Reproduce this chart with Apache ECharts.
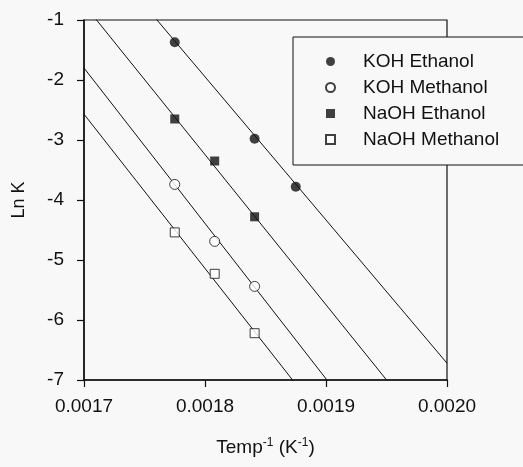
<!DOCTYPE html>
<html><head><meta charset="utf-8">
<script src="https://cdn.jsdelivr.net/npm/echarts@6/dist/echarts.min.js"></script>
<style>html,body{margin:0;padding:0;background:#f8f8f8}#c{width:523px;height:467px}</style>
</head><body><div id="c"></div>
<script>
// Data (x = 1/T in K^-1, y = ln K)
const xTicks = [0.0017, 0.0018, 0.0019, 0.0020];
const yTicks = [-7, -6, -5, -4, -3, -2, -1];
const seriesNames = ['KOH Ethanol', 'KOH Methanol', 'NaOH Ethanol', 'NaOH Methanol'];
const kohEthX = [0.001775, 0.001841, 0.001875];
const kohEthY = [-1.37, -2.98, -3.78];
const kohMethX = [0.001775, 0.001808, 0.001841];
const kohMethY = [-3.74, -4.69, -5.44];
const naohEthX = [0.001775, 0.001808, 0.001841];
const naohEthY = [-2.65, -3.35, -4.28];
const naohMethX = [0.001775, 0.001808, 0.001841];
const naohMethY = [-4.54, -5.23, -6.22];
// Fitted lines: ln K at x = 0.0017 and x = 0.0020
const fitX = [0.0017, 0.0020];
const fitKohEth = [0.44, -6.72];
const fitNaohEth = [-0.74, -8.25];
const fitKohMeth = [-1.80, -9.57];
const fitNaohMeth = [-2.57, -10.28];

const zip = (xs, ys) => xs.map((x, i) => [x, ys[i]]);
const ink = '#111';
const font = 'Arial, "Liberation Sans", sans-serif';

function fitLine(ys) {
  return { type: 'line', data: zip(fitX, ys), showSymbol: false, symbol: 'none', silent: true,
    lineStyle: { color: ink, width: 1 }, clip: true, z: 2, legendHoverLink: false };
}
function pts(name, xs, ys, symbol, filled) {
  return { type: 'scatter', name, data: zip(xs, ys), symbol, symbolSize: symbol === 'rect' ? 9 : 10,
    symbolKeepAspect: true,
    itemStyle: { color: filled ? ink : '#fff', borderColor: ink, borderWidth: filled ? 0 : 1 }, z: 3 };
}

const chart = echarts.init(document.getElementById('c'), null, { renderer: 'canvas' });
chart.setOption({
  backgroundColor: '#f8f8f8',
  animation: false,
  grid: { left: 84, right: 76, top: 20, bottom: 87, show: true, borderColor: ink, borderWidth: 1.2, backgroundColor: 'transparent' },
  legend: {
    data: seriesNames.map(n => ({ name: n })),
    orient: 'vertical', left: 293, top: 37,
    padding: [15, 120, 16, 32],
    itemWidth: 9, itemHeight: 9, itemGap: 7,
    backgroundColor: '#f8f8f8', borderColor: ink, borderWidth: 1,
    textStyle: { fontFamily: font, fontSize: 19, color: ink, padding: [0, 0, 0, 23] },
    selectedMode: false, z: 10
  },
  xAxis: {
    type: 'value', min: xTicks[0], max: xTicks[xTicks.length - 1], interval: 0.0001,
    name: '{a|Temp}{s|-1}{a| (K}{s|-1}{a|)}', nameLocation: 'middle', nameGap: 57,
    nameTextStyle: { rich: {
      a: { fontFamily: font, fontSize: 19, color: ink, lineHeight: 22 },
      s: { fontFamily: font, fontSize: 12, color: ink, lineHeight: 22, verticalAlign: 'top' }
    } },
    axisLine: { lineStyle: { color: ink, width: 1.5 } },
    axisTick: { inside: false, length: 7, lineStyle: { color: ink, width: 1.2 } },
    axisLabel: { fontFamily: font, fontSize: 19, color: ink, margin: 17, formatter: v => v.toFixed(4) },
    splitLine: { show: false }
  },
  yAxis: {
    type: 'value', min: yTicks[0], max: yTicks[yTicks.length - 1], interval: 1,
    name: 'Ln K', nameLocation: 'middle', nameGap: 56, nameRotate: 90,
    nameTextStyle: { fontFamily: font, fontSize: 18, color: ink },
    axisLine: { lineStyle: { color: ink, width: 1.5 } },
    axisTick: { inside: false, length: 7, lineStyle: { color: ink, width: 1.2 } },
    axisLabel: { fontFamily: font, fontSize: 19, color: ink, margin: 20 },
    splitLine: { show: false }
  },
  series: [
    fitLine(fitKohEth), fitLine(fitNaohEth), fitLine(fitKohMeth), fitLine(fitNaohMeth),
    pts(seriesNames[0], kohEthX, kohEthY, 'circle', true),
    pts(seriesNames[1], kohMethX, kohMethY, 'circle', false),
    pts(seriesNames[2], naohEthX, naohEthY, 'rect', true),
    pts(seriesNames[3], naohMethX, naohMethY, 'rect', false)
  ]
});
</script>
</body></html>
